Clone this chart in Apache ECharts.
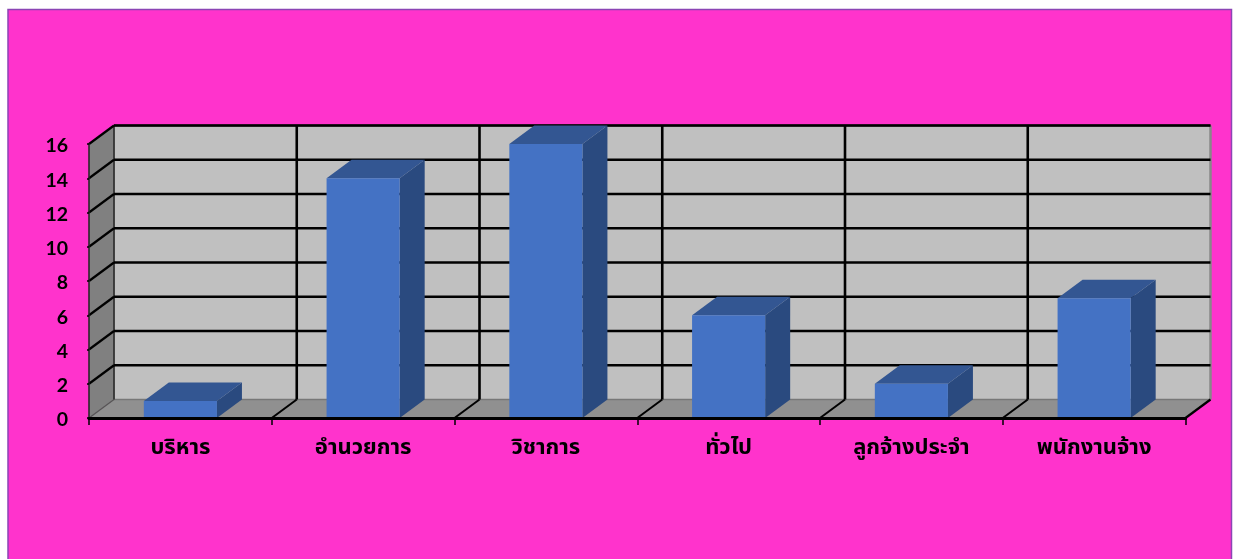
<!DOCTYPE html>
<html><head><meta charset="utf-8">
<style>html,body{margin:0;padding:0;background:#fff;overflow:hidden}#c{width:1235px;height:559px}</style>
<script src="https://cdn.jsdelivr.net/npm/echarts@6/dist/echarts.min.js"></script>
</head><body><div id="c"></div>
<script>
const categories = ['บริหาร','อำนวยการ','วิชาการ','ทั่วไป','ลูกจ้างประจำ','พนักงานจ้าง'];
const values = [1,14,16,6,2,7];
const yTicks = [2,4,6,8,10,12,14,16];
const boundaries = [0,1,2,3,4,5,6];
const DX = 25, DY = -18.5;
const chart = echarts.init(document.getElementById('c'));
const poly = (pts, fill, stroke, lw) => ({type:'polygon', shape:{points:pts}, style:{fill, stroke: stroke||'none', lineWidth: lw||0}});
const line = (a,b,stroke,lw) => ({type:'line', shape:{x1:a[0],y1:a[1],x2:b[0],y2:b[1]}, style:{stroke, lineWidth:lw, fill:'none'}});
chart.setOption({
  animation:false,
  backgroundColor:'#fff',
  graphic:[{type:'rect', z:-100, shape:{x:8,y:9.5,width:1223.5,height:560}, style:{fill:'#ff33cc', stroke:'#8b45b5', lineWidth:1.5}}],
  grid:{left:89, top:144, width:1096.5, height:274, containLabel:false},
  xAxis:{type:'category', data:categories, z:10,
    axisLine:{lineStyle:{color:'#000',width:3}},
    axisTick:{show:true, alignWithLabel:false, length:7, lineStyle:{color:'#000',width:1.5}},
    axisLabel:{margin:19, interval:0, color:'#000', fontWeight:'bold', fontSize:22, fontFamily:'Noto Sans, Noto Sans Thai, DejaVu Sans, sans-serif'}},
  yAxis:{type:'value', min:0, max:16, interval:2, z:10,
    axisLine:{show:true, lineStyle:{color:'#222',width:1.5}},
    axisTick:{show:true, length:2, lineStyle:{color:'#000',width:1.5}},
    splitLine:{show:false},
    axisLabel:{margin:21, color:'#000', fontWeight:'bold', fontSize:19.5, verticalAlign:'top', lineHeight:4, fontFamily:'Lato, Open Sans, sans-serif'}},
  series:[
    {type:'custom', name:'walls', coordinateSystem:'cartesian2d', silent:true, clip:false, z:1,
     data:[[0,0]], encode:{x:0,y:1},
     renderItem(p,api){
       const c=p.coordSys, l=c.x, r=c.x+c.width, t=c.y, b=c.y+c.height;
       return {type:'group',children:[
         poly([[l,b],[l+DX,b+DY],[l+DX,t+DY],[l,t]],'#808080'),
         poly([[l+DX,b+DY],[r+DX,b+DY],[r+DX,t+DY],[l+DX,t+DY]],'#c0c0c0'),
         poly([[l,b],[r,b],[r+DX,b+DY],[l+DX,b+DY]],'#909090'),
         line([l+DX,b+DY],[r+DX,b+DY],'#777',1.5),
         line([r+DX,b+DY],[r+DX,t+DY],'#888',2.5),
         line([l+DX,t+DY],[r+DX,t+DY],'#333',2),
         line([r,b],[r+DX,b+DY],'#000',2.2),
         line([l,b],[l+DX,b+DY],'#555',1.2),
         line([l+DX,b+DY],[l+DX,t+DY],'#333',1.8),
       ]};
     }},
    {type:'custom', name:'hgrid', coordinateSystem:'cartesian2d', silent:true, clip:false, z:2,
     data:yTicks.map(v=>[0,v]), encode:{x:0,y:1},
     renderItem(p,api){
       const c=p.coordSys, y=api.coord([0,api.value(1)])[1], l=c.x, r=c.x+c.width;
       return {type:'group',children:[
         line([l,y],[l+DX,y+DY],'#000',2.2),
         line([l+DX,y+DY],[r+DX,y+DY],'#000',2.6)
       ]};
     }},
    {type:'custom', name:'vgrid', coordinateSystem:'cartesian2d', silent:true, clip:false, z:2,
     data:boundaries.slice(1,-1).map(v=>[v,0]), encode:{x:0,y:1},
     renderItem(p,api){
       const c=p.coordSys, bw=api.size([1,0])[0], x=api.coord([api.value(0),0])[0]-bw/2, b=c.y+c.height, t=c.y;
       return {type:'group',children:[
         line([x,b],[x+DX,b+DY],'#000',2),
         line([x+DX,b+DY],[x+DX,t+DY],'#000',2.6)
       ]};
     }},
    {type:'custom', name:'bars', coordinateSystem:'cartesian2d', silent:true, clip:false, z:3,
     data:values.map((v,i)=>[i,v]), encode:{x:0,y:1},
     renderItem(p,api){
       const i=api.value(0), v=api.value(1), bw=api.size([1,0])[0]*0.4;
       const top=api.coord([i,v]), base=api.coord([i,0]);
       const x0=top[0]-bw/2, x1=top[0]+bw/2, yt=top[1], yb=base[1];
       return {type:'group',children:[
         poly([[x1,yb],[x1+DX,yb+DY],[x1+DX,yt+DY],[x1,yt]],'#2a4a7f'),
         poly([[x0,yt],[x1,yt],[x1+DX,yt+DY],[x0+DX,yt+DY]],'#335692'),
         poly([[x0,yt],[x1,yt],[x1,yb],[x0,yb]],'#4472c4'),
       ]};
     }}
  ]
});
</script></body></html>
